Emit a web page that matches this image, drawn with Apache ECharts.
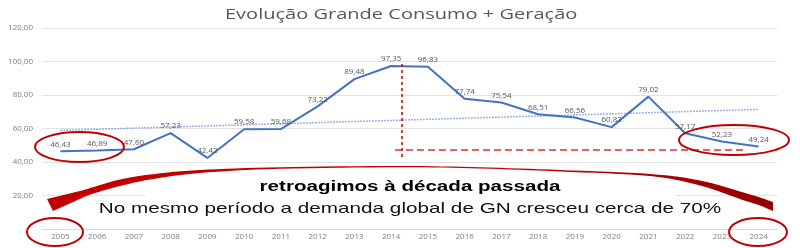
<!DOCTYPE html>
<html>
<head>
<meta charset="utf-8">
<script src="https://cdn.jsdelivr.net/npm/echarts@6/dist/echarts.min.js"></script>
<style>html,body{margin:0;padding:0;background:#fff}#c{width:800px;height:248px}</style>
</head>
<body>
<div id="c"></div>
<script>
// ---- data ----
var years = ['2005','2006','2007','2008','2009','2010','2011','2012','2013','2014','2015','2016','2017','2018','2019','2020','2021','2022','2023','2024'];
var values = [46.43, 46.89, 47.60, 57.23, 42.42, 59.58, 59.68, 73.22, 89.48, 97.35, 96.83, 77.74, 75.54, 68.51, 66.56, 60.82, 79.02, 57.17, 52.23, 49.24];
var trendEnds = [58.9, 71.4]; // linear trendline values at first and last year
var yTicks = [0, 20, 40, 60, 80, 100, 120];
var titleText = 'Evolução Grande Consumo + Geração';
var note1 = 'retroagimos à década passada';
var note2 = 'No mesmo período a demanda global de GN cresceu cerca de 70%';

function fmt(v){ return v.toFixed(2).replace('.', ','); }

var trend = years.map(function(_, i){ return i === 0 ? trendEnds[0] : (i === years.length - 1 ? trendEnds[1] : null); });

// ---- decoration: curved arrow outline (Catmull-Rom through guide points) ----
function spline(pts, n){
  var out=[], L=pts.length;
  for(var i=0;i<L-1;i++){
    var p0=pts[Math.max(i-1,0)], p1=pts[i], p2=pts[i+1], p3=pts[Math.min(i+2,L-1)];
    for(var k=0;k<n;k++){
      var t=k/n, t2=t*t, t3=t2*t, q=[];
      for(var d=0;d<2;d++){
        q.push(0.5*(2*p1[d] + (-p0[d]+p2[d])*t + (2*p0[d]-5*p1[d]+4*p2[d]-p3[d])*t2 + (-p0[d]+3*p1[d]-3*p2[d]+p3[d])*t3));
      }
      out.push(q);
    }
  }
  out.push(pts[L-1]);
  return out;
}
var topGuide = [[773,202],[760,197.5],[740,191.5],[700,180.5],[650,174],[560,170],[480,167.3],[400,166],[280,167.2],[200,170],[150,174.5],[120,179.5],[97,186],[84,190]];
var botGuide = [[86,196],[100,191.5],[120,186],[150,179.5],[200,173],[280,168.8],[400,167.3],[480,168.5],[560,171.5],[650,176],[700,185.5],[740,199],[760,205.5],[773,211]];
var arrowPts = spline(topGuide, 8).concat([[47,199],[53,211],[82,198]]).concat(spline(botGuide, 8));

function ell(cx,cy,rx,ry){
  return {type:'ellipse', shape:{cx:cx,cy:cy,rx:rx,ry:ry}, style:{fill:'none',stroke:'#c00000',lineWidth:2}, z:110};
}

var chart = echarts.init(document.getElementById('c'), null, {renderer:'canvas'});
chart.setOption({
  animation:false,
  backgroundColor:'#ffffff',
  grid:{left:42, right:23, top:28, bottom:19},
  xAxis:{type:'category', data:years, boundaryGap:true,
    axisTick:{show:false}, axisLine:{lineStyle:{color:'#d9d9d9'}},
    axisLabel:{fontFamily:'Open Sans', fontSize:8, color:'#808080', margin:4}},
  yAxis:{type:'value', min:yTicks[0], max:yTicks[yTicks.length-1], interval:20,
    axisLine:{show:false}, axisTick:{show:false},
    splitLine:{lineStyle:{color:'#e3e3e3', width:1}},
    axisLabel:{fontFamily:'Open Sans', fontSize:8, color:'#808080', margin:9, formatter:function(v){return v===0?'':fmt(v);}}},
  series:[
    {type:'line', data:trend, connectNulls:true, symbol:'none', z:2, silent:true,
      lineStyle:{color:'#7b9be0', width:1.5, type:'dotted'}},
    {type:'line', data:values, symbol:'circle', symbolSize:0, showSymbol:true, z:3,
      itemStyle:{color:'#4472c4'},
      lineStyle:{color:'#4472c4', width:2},
      label:{show:true, position:'top', distance:3, fontFamily:'Open Sans', fontSize:8, color:'#595959', formatter:function(p){return fmt(p.value);}},
      labelLayout:{hideOverlap:false}}
  ],
  graphic:[
    {type:'text', x:225, y:15, scaleX:1.43, z:130,
      style:{text:titleText, x:0, y:0, textAlign:'left', textVerticalAlign:'middle', font:'14px "Open Sans"', fill:'#595959'}},
    {type:'rect', shape:{x:145,y:172,width:530,height:50}, style:{fill:'#ffffff'}, z:100},
    {type:'line', shape:{x1:402,y1:64,x2:402,y2:158}, style:{stroke:'#c00000',lineWidth:1.5,lineDash:[3,3]}, z:105},
    {type:'line', shape:{x1:395,y1:150,x2:744,y2:150}, style:{stroke:'#e03030',lineWidth:1.3,lineDash:[7,4]}, z:105},
    {type:'polygon', shape:{points:arrowPts}, z:120,
      style:{fill:new echarts.graphic.LinearGradient(0,0,1,0,[{offset:0,color:'#c00000'},{offset:0.6,color:'#c60000'},{offset:1,color:'#960000'}])}},
    ell(79.5,147,44.5,15),
    ell(734,140,55,15),
    ell(55,232,28,14),
    ell(758,232,29,14),
    {type:'text', x:410, y:187, scaleX:1.47, z:130,
      style:{text:note1, x:0, y:0, textAlign:'center', textVerticalAlign:'middle', font:'bold 14px "Liberation Sans", Arial', fill:'#000'}},
    {type:'text', x:410, y:209, scaleX:1.38, z:130,
      style:{text:note2, x:0, y:0, textAlign:'center', textVerticalAlign:'middle', font:'15px "Liberation Sans", Arial', fill:'#111'}}
  ]
});
</script>
</body>
</html>
